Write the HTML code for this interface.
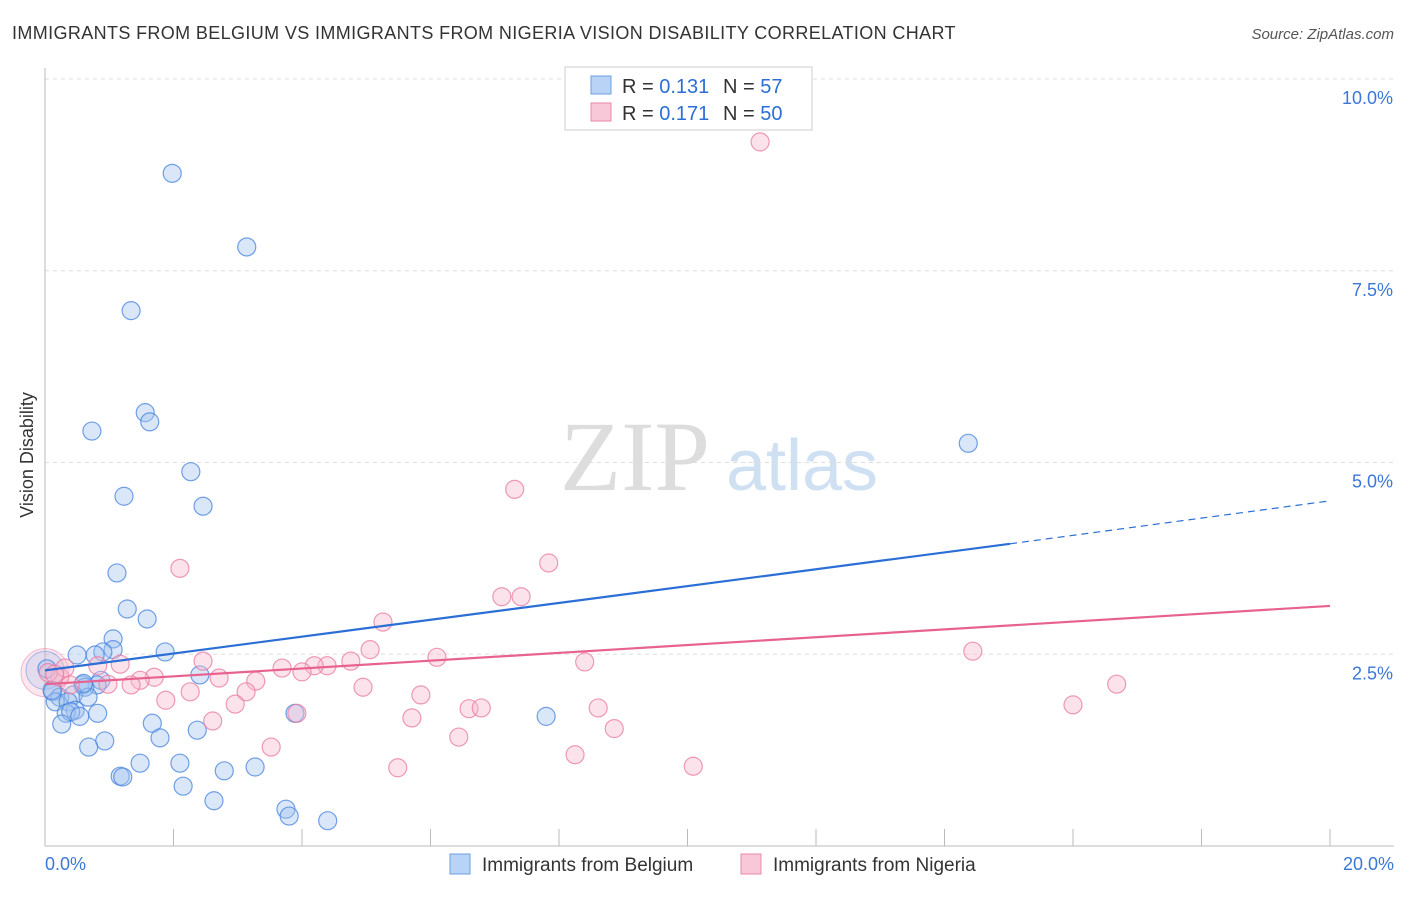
<!DOCTYPE html>
<html><head><meta charset="utf-8"><style>
body{margin:0;background:#fff;font-family:"Liberation Sans",sans-serif;}
svg text{font-family:"Liberation Sans",sans-serif;}
</style></head><body>
<svg id="chart" width="1406" height="892" xmlns="http://www.w3.org/2000/svg">
<text x="12" y="39" font-size="18" fill="#333" letter-spacing="0.37">IMMIGRANTS FROM BELGIUM VS IMMIGRANTS FROM NIGERIA VISION DISABILITY CORRELATION CHART</text>
<text x="1394" y="39" font-size="15" fill="#555" font-style="italic" text-anchor="end">Source: ZipAtlas.com</text>
<text x="33" y="455" font-size="18" fill="#333" transform="rotate(-90 33 455)" text-anchor="middle">Vision Disability</text>
<g><text x="635" y="490" font-size="100" fill="#ddd" style="font-family:'Liberation Serif',serif" text-anchor="middle">ZIP</text><text x="802" y="490" font-size="72" fill="#cfe0f3" text-anchor="middle">atlas</text></g>
<g id="grid"></g><g id="axes"></g><g id="marks"></g>
<g>
<rect x="565" y="67" width="247" height="63" fill="#fff" stroke="#ccc"/>
<rect x="591" y="76" width="20" height="18" fill="#b8d3f5" stroke="#6a9fe0"/>
<rect x="591" y="103" width="20" height="18" fill="#f9c8d8" stroke="#e98aaa"/>
<text x="622" y="93" font-size="20" fill="#333">R = <tspan fill="#2b6fd6">0.131</tspan></text>
<text x="723" y="93" font-size="20" fill="#333">N =  <tspan fill="#2b6fd6">57</tspan></text>
<text x="622" y="120" font-size="20" fill="#333">R = <tspan fill="#2b6fd6">0.171</tspan></text>
<text x="723" y="120" font-size="20" fill="#333">N = <tspan fill="#2b6fd6">50</tspan></text>
</g>
<g>
<rect x="450" y="854" width="20" height="20" fill="#b8d3f5" stroke="#6a9fe0"/>
<text x="482" y="871" font-size="19" fill="#333">Immigrants from Belgium</text>
<rect x="741" y="854" width="20" height="20" fill="#f9c8d8" stroke="#e98aaa"/>
<text x="773" y="871" font-size="19" fill="#333">Immigrants from Nigeria</text>
</g>
</svg>
<script>
const xTickValues=[0,2,4,6,8,10,12,14,16,18,20];
const yTickValues=[2.5,5,7.5,10];
const yTickLabels=["2.5%","5.0%","7.5%","10.0%"];
const xEndLabels=["0.0%","20.0%"];
const belgiumX=[1.98,3.14,1.34,1.56,1.63,0.73,2.27,1.23,2.46,1.12,1.28,1.59,1.06,1.06,0.90,0.78,0.50,1.87,2.41,0.87,0.81,0.59,0.62,0.12,0.23,0.44,0.16,0.67,0.36,0.47,0.82,0.33,0.40,0.54,0.26,1.67,0.93,1.79,0.68,2.37,3.89,7.80,14.37,1.48,2.10,2.79,3.27,1.17,1.21,2.15,2.63,3.75,3.80,4.40,0.03,0.11,0.60];
const belgiumY=[8.77,7.81,6.98,5.65,5.53,5.41,4.88,4.56,4.43,3.56,3.09,2.96,2.70,2.56,2.53,2.49,2.49,2.53,2.23,2.16,2.10,2.10,2.07,2.01,1.94,1.97,1.88,1.94,1.88,1.77,1.73,1.73,1.75,1.69,1.59,1.60,1.37,1.41,1.29,1.51,1.73,1.69,5.25,1.08,1.08,0.98,1.03,0.91,0.90,0.78,0.59,0.48,0.39,0.33,2.31,2.03,2.12];
const nigeriaX=[11.13,7.31,7.84,2.10,7.11,7.41,5.26,5.06,8.40,14.44,6.10,4.76,4.39,4.19,4.00,3.69,2.46,1.17,0.82,1.70,1.48,1.34,0.98,2.71,3.28,3.13,2.26,4.95,5.85,1.88,2.96,2.61,3.52,5.71,6.60,6.79,6.44,8.61,8.86,8.25,5.49,10.09,16.00,16.68,0.23,0.31,0.39,3.92,0.05,0.15];
const nigeriaY=[9.18,4.65,3.69,3.62,3.25,3.25,2.92,2.56,2.40,2.54,2.46,2.41,2.35,2.35,2.27,2.32,2.41,2.37,2.35,2.20,2.16,2.10,2.11,2.19,2.15,2.01,2.01,2.07,1.97,1.90,1.85,1.63,1.29,1.67,1.79,1.80,1.42,1.80,1.53,1.19,1.02,1.04,1.84,2.11,2.20,2.32,2.10,1.73,2.26,2.24];
const belgiumTrend=[2.29,3.94,4.50]; const belgiumTrendX=[0,15.02,20];
const nigeriaTrend=[2.11,3.13]; const nigeriaTrendX=[0,20];
const sx=v=>45+v/20*1285, sy=v=>846-v*76.7;
const NS="http://www.w3.org/2000/svg";
function mk(p,t,a){const e=document.createElementNS(NS,t);for(const k in a)e.setAttribute(k,a[k]);p.appendChild(e);return e;}
const grid=document.getElementById('grid'),axes=document.getElementById('axes'),marks=document.getElementById('marks');
yTickValues.forEach((v,i)=>{
 const l=mk(grid,'line',{x1:45,x2:1394,y1:sy(v),y2:sy(v),stroke:'#ddd','stroke-dasharray':'4,4'});
 
 
 const t=mk(axes,'text',{x:1393,y:sy(v)+25,'font-size':18,fill:'#3a78d8','text-anchor':'end'});t.textContent=yTickLabels[i];
 
 
});
const ax=mk(axes,'line',{x1:45,x2:45,y1:68,y2:846,stroke:'#bbb'});


const bx=mk(axes,'line',{x1:45,x2:1394,y1:846,y2:846,stroke:'#bbb'});


xTickValues.forEach(v=>{const t=mk(axes,'line',{x1:sx(v),x2:sx(v),y1:829,y2:846,stroke:'#bbb'});
 
 });
const l0=mk(axes,'text',{x:45,y:870,'font-size':18,fill:'#3a78d8'});l0.textContent=xEndLabels[0];


const l1=mk(axes,'text',{x:1394,y:870,'font-size':18,fill:'#3a78d8','text-anchor':'end'});l1.textContent=xEndLabels[1];


const bp=mk(marks,'circle',{cx:sx(0),cy:sy(2.26),r:24,fill:'rgba(244,160,190,0.25)',stroke:'rgba(230,120,160,0.5)'});


const bb=mk(marks,'circle',{cx:sx(0),cy:sy(2.29),r:19,fill:'rgba(150,185,235,0.25)',stroke:'rgba(90,140,220,0.5)'});


belgiumX.forEach((x,i)=>{const c=mk(marks,'circle',{cx:sx(x),cy:sy(belgiumY[i]),r:9,fill:'rgba(160,195,240,0.4)',stroke:'rgba(70,130,220,0.75)','stroke-width':1.2});
 
 });
nigeriaX.forEach((x,i)=>{const c=mk(marks,'circle',{cx:sx(x),cy:sy(nigeriaY[i]),r:9,fill:'rgba(248,185,205,0.4)',stroke:'rgba(232,120,160,0.75)','stroke-width':1.2});
 
 });
const t1=mk(marks,'line',{x1:sx(belgiumTrendX[0]),y1:sy(belgiumTrend[0]),x2:sx(belgiumTrendX[1]),y2:sy(belgiumTrend[1]),stroke:'#2b6fd6','stroke-width':2.2});


const t2=mk(marks,'line',{x1:sx(belgiumTrendX[1]),y1:sy(belgiumTrend[1]),x2:sx(belgiumTrendX[2]),y2:sy(belgiumTrend[2]),stroke:'#2b6fd6','stroke-width':1.2,'stroke-dasharray':'7,5'});


const t3=mk(marks,'line',{x1:sx(nigeriaTrendX[0]),y1:sy(nigeriaTrend[0]),x2:sx(nigeriaTrendX[1]),y2:sy(nigeriaTrend[1]),stroke:'#e8628f','stroke-width':2.2});


</script>
</body></html>
